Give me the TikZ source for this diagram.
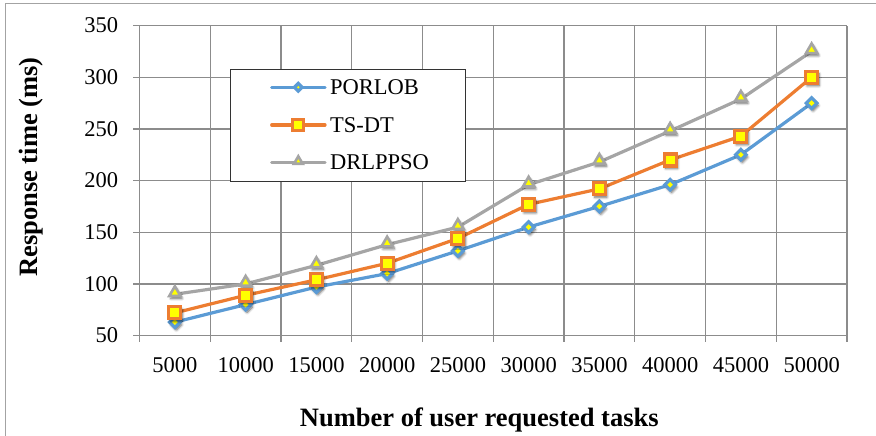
\documentclass[tikz,border=0pt]{standalone}
\usepackage{fontspec}
\setmainfont{Liberation Serif}
\usetikzlibrary{shapes.geometric,shadows.blur}

\definecolor{seriesblue}{HTML}{5B9BD5}
\definecolor{seriesorange}{HTML}{ED7D31}
\definecolor{seriesgray}{HTML}{A5A5A5}
\definecolor{gridgray}{HTML}{8C8C8C}
\definecolor{markyellow}{HTML}{FFFF00}

\begin{document}
\begin{tikzpicture}[x=1pt,y=1pt,
  grid line/.style={gridgray, line width=1.2pt},
  tick label/.style={font=\fontsize{22.5}{22.5}\selectfont, inner sep=0pt},
  axis title/.style={font=\fontsize{26.5}{26.5}\selectfont\bfseries, inner sep=0pt},
  legend label/.style={font=\fontsize{22.5}{22.5}\selectfont, inner sep=0pt, anchor=base west},
  mshadow/.style={blur shadow={shadow xshift=1.5pt, shadow yshift=-2.5pt, shadow blur radius=2.5pt, shadow blur steps=6, shadow opacity=60}},
  porlob mark/.style={diamond, draw=seriesblue, fill=markyellow, line width=3.2pt, inner sep=0pt, minimum width=12pt, minimum height=12pt},
  tsdt mark/.style={rectangle, draw=seriesorange, fill=markyellow, line width=3.2pt, inner sep=0pt, minimum size=12pt},
  drl mark/.style={regular polygon, regular polygon sides=3, draw=seriesgray, fill=markyellow, line width=2.6pt, inner sep=0pt, minimum size=13pt},
  series line/.style={line width=3.2pt, line join=round, line cap=round},
]
\useasboundingbox (0,0) rectangle (876,436);

% outer frame of the chart area
\draw[gridgray!80, line width=1pt] (5,-5) -- (5,432) -- (885,432);

% plot area: one x unit per category, y in ms
\begin{scope}[shift={(139.5,48.73)}, x=70.75pt, y=1.03333pt]
  \foreach \v in {50,100,...,350} {
    \draw[grid line] (0,\v) -- (10,\v);
    \draw[grid line] (0,\v) -- ++(-6.5pt,0pt);
    \node[tick label, anchor=east] at ([xshift=-21.2pt]0,\v) {\v};
  }
  \foreach \i in {0,...,10} {
    \draw[grid line] (\i,50) -- (\i,350);
    \draw[grid line] (\i,50) -- ++(0pt,-6.5pt);
  }
  \foreach \n [count=\i from 0] in {5000,10000,15000,20000,25000,30000,35000,40000,45000,50000}
    \node[tick label, anchor=base] at ([yshift=-36.4pt]\i+0.5,50) {\n};

  % data points
  \foreach \v [count=\i from 0] in {63,80,97,110,132,155,175,196,225,275}
    \coordinate (p\i) at (\i+0.5,\v);
  \foreach \v [count=\i from 0] in {72,89,104,120,144,177,192,220,243,300}
    \coordinate (t\i) at (\i+0.5,\v);
  \foreach \v [count=\i from 0] in {90,100,118,138,155,196,218,248,279,325}
    \coordinate (d\i) at (\i+0.5,\v);

  % series lines
  \draw[series line, seriesgray] (d0) \foreach \i in {1,...,9} { -- (d\i) };
  \draw[series line, seriesblue] (p0) \foreach \i in {1,...,9} { -- (p\i) };
  \draw[series line, seriesorange] (t0) \foreach \i in {1,...,9} { -- (t\i) };

  % markers
  \foreach \i in {0,...,9} \node[drl mark, mshadow, yshift=1.5pt] (dm\i) at (d\i) {};
  \foreach \i in {0,...,9} \node[porlob mark, mshadow] (pm\i) at (p\i) {};
  \foreach \i in {0,...,9} \node[tsdt mark, mshadow] (tm\i) at (t\i) {};
\end{scope}

% legend
\node[draw=black!80, line width=1pt, fill=white, minimum width=235pt, minimum height=112pt, inner sep=0pt, anchor=north west] (legend) at (230,367) {};
\coordinate (la1) at (271.7,348.7); \coordinate (lb1) at (325,348.7);
\coordinate (la2) at (271.7,311);   \coordinate (lb2) at (325,311);
\coordinate (la3) at (271.7,273.7); \coordinate (lb3) at (325,273.7);
\draw[series line, seriesblue] (la1) -- (lb1);
\draw[series line, seriesorange] (la2) -- (lb2);
\draw[series line, seriesgray] (la3) -- (lb3);
\node[porlob mark, minimum width=9pt, minimum height=9pt] (lm1) at (298.3,348.7) {};
\node[tsdt mark, minimum size=11pt] (lm2) at (298.3,311) {};
\node[drl mark, minimum size=10pt, yshift=1pt] (lm3) at (298.3,273.7) {};
\node[legend label] (lt1) at (330,341) {PORLOB};
\node[legend label] (lt2) at (330,303.3) {TS-DT};
\node[legend label] (lt3) at (330,266) {DRLPPSO};

% axis titles
\node[axis title, anchor=base, rotate=90] (ytitle) at (37,269) {Response time (ms)};
\node[axis title, anchor=base] (xtitle) at (479.3,9.3) {Number of user requested tasks};
\end{tikzpicture}
\end{document}
